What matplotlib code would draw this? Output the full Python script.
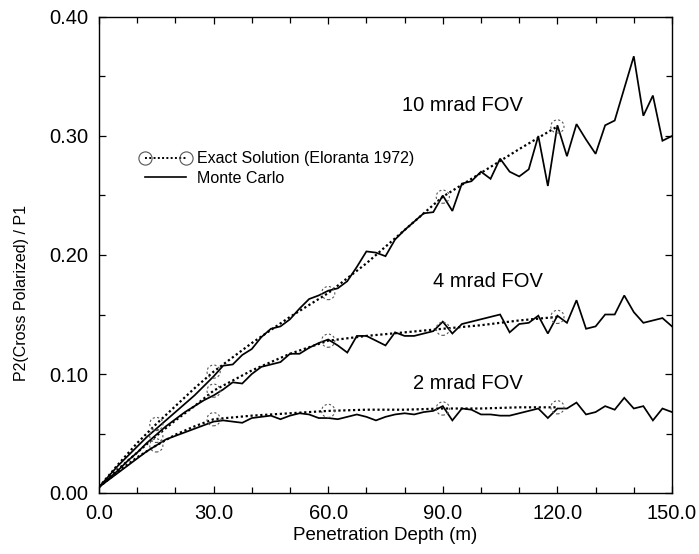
import numpy as np
import matplotlib
matplotlib.use("Agg")
import matplotlib.pyplot as plt
from matplotlib.lines import Line2D
from matplotlib.ticker import MultipleLocator, FormatStrFormatter

plt.rcParams['font.family'] = ['Liberation Sans', 'DejaVu Sans']

# ---------------- data ----------------
mc_depth = [0, 2.5, 5, 7.5, 10, 12.5, 15, 17.5, 20, 22.5, 25, 27.5, 30, 32.5, 35, 37.5,
            40, 42.5, 45, 47.5, 50, 52.5, 55, 57.5, 60, 62.5, 65, 67.5, 70, 72.5, 75, 77.5,
            80, 82.5, 85, 87.5, 90, 92.5, 95, 97.5, 100, 102.5, 105, 107.5, 110, 112.5,
            115, 117.5, 120, 122.5, 125, 127.5, 130, 132.5, 135, 137.5, 140, 142.5, 145,
            147.5, 150]

mc_10 = [0.005, 0.014, 0.023, 0.031, 0.039, 0.047, 0.054, 0.061, 0.068, 0.075, 0.082, 0.090,
         0.098, 0.107, 0.108, 0.116, 0.121, 0.131, 0.138, 0.140, 0.146, 0.155, 0.163, 0.166,
         0.170, 0.172, 0.178, 0.190, 0.203, 0.202, 0.199, 0.213, 0.221, 0.228, 0.235, 0.236,
         0.250, 0.237, 0.260, 0.262, 0.270, 0.264, 0.281, 0.270, 0.266, 0.272, 0.300, 0.258,
         0.309, 0.283, 0.310, 0.297, 0.285, 0.309, 0.313, 0.340, 0.367, 0.317, 0.334, 0.296,
         0.300]

mc_4 = [0.005, 0.012, 0.019, 0.027, 0.034, 0.042, 0.049, 0.056, 0.062, 0.068, 0.073, 0.078,
        0.082, 0.087, 0.093, 0.092, 0.100, 0.106, 0.108, 0.110, 0.117, 0.117, 0.122, 0.126,
        0.129, 0.124, 0.118, 0.132, 0.132, 0.128, 0.124, 0.135, 0.132, 0.132, 0.134, 0.136,
        0.144, 0.134, 0.142, 0.144, 0.146, 0.148, 0.150, 0.135, 0.142, 0.143, 0.149, 0.134,
        0.149, 0.143, 0.162, 0.138, 0.140, 0.150, 0.150, 0.166, 0.152, 0.143, 0.145, 0.147,
        0.140]

mc_2 = [0.005, 0.011, 0.017, 0.023, 0.029, 0.035, 0.040, 0.045, 0.048, 0.051, 0.054, 0.057,
        0.060, 0.061, 0.060, 0.059, 0.063, 0.064, 0.065, 0.062, 0.065, 0.067, 0.066, 0.063,
        0.063, 0.062, 0.064, 0.066, 0.064, 0.061, 0.064, 0.066, 0.067, 0.066, 0.068, 0.069,
        0.073, 0.061, 0.071, 0.070, 0.066, 0.066, 0.065, 0.065, 0.067, 0.069, 0.071, 0.063,
        0.071, 0.071, 0.076, 0.066, 0.068, 0.073, 0.070, 0.080, 0.071, 0.073, 0.061, 0.071,
        0.068]

ex_depth = [0, 5, 10, 15, 20, 25, 30, 40, 50, 60, 70, 80, 90, 100, 110, 120]
ex_10 = [0.005, 0.024, 0.042, 0.058, 0.073, 0.088, 0.102, 0.126, 0.148, 0.168, 0.193, 0.221,
         0.249, 0.269, 0.289, 0.308]
ex_4 = [0.005, 0.020, 0.034, 0.048, 0.061, 0.073, 0.086, 0.103, 0.117, 0.128, 0.132, 0.135,
        0.138, 0.141, 0.145, 0.148]
ex_2 = [0.005, 0.018, 0.030, 0.040, 0.049, 0.056, 0.062, 0.065, 0.067, 0.069, 0.070, 0.070,
        0.071, 0.071, 0.072, 0.072]
marker_depths = [15, 30, 60, 90, 120]

fov_labels = ["10 mrad FOV", "4 mrad FOV", "2 mrad FOV"]
fov_label_pos = [(95.1, 0.326), (101.9, 0.178), (96.5, 0.092)]

legend_labels = ["Exact Solution (Eloranta 1972)", "Monte Carlo"]

# ---------------- figure ----------------
fig = plt.figure(figsize=(6.99, 5.54), dpi=100)
ax = fig.add_axes([99 / 699, 1 - 493 / 554, (672 - 99) / 699, (493 - 17) / 554])

dot_style = dict(color='black', lw=1.6, ls=(0, (1, 1.2)))
mark_style = dict(s=90, facecolors='none', edgecolors='#555555', linewidths=0.8,
                  linestyles=(0, (2, 2)), zorder=4)

ex_depth_a = np.array(ex_depth)
sel = np.isin(ex_depth_a, marker_depths)
for ex in (ex_10, ex_4, ex_2):
    ex_a = np.array(ex)
    ax.plot(ex_depth_a, ex_a, **dot_style)
    ax.scatter(ex_depth_a[sel], ex_a[sel], **mark_style)

for mc in (mc_10, mc_4, mc_2):
    ax.plot(mc_depth, mc, color='black', lw=1.25, solid_joinstyle='miter')

for lab, (xx, yy) in zip(fov_labels, fov_label_pos):
    ax.text(xx, yy, lab, fontsize=14.5, ha='center', va='center')

ax.set_xlim(0, 150)
ax.set_ylim(0, 0.40)
ax.xaxis.set_major_locator(MultipleLocator(30))
ax.xaxis.set_minor_locator(MultipleLocator(10))
ax.yaxis.set_major_locator(MultipleLocator(0.10))
ax.yaxis.set_minor_locator(MultipleLocator(0.05))
ax.xaxis.set_major_formatter(FormatStrFormatter('%.1f'))
ax.yaxis.set_major_formatter(FormatStrFormatter('%.2f'))
ax.tick_params(which='both', direction='in', top=True, right=True, width=0.9)
ax.tick_params(which='major', length=5, labelsize=14.5, pad=8)
ax.tick_params(which='minor', length=4)
for sp in ax.spines.values():
    sp.set_linewidth(1.0)

ax.set_xlabel("Penetration Depth (m)", fontsize=13.5, labelpad=3)
ax.set_ylabel("P2(Cross Polarized) / P1", fontsize=11.5)
ax.yaxis.set_label_coords(-0.123, 0.42)

h_ex = Line2D([], [], color='black', lw=1.4, ls=(0, (1, 1.2)), marker='o', ms=9.5,
              mfc='none', mec='#555555', mew=0.8)
h_mc = Line2D([], [], color='black', lw=1.2)
ax.legend([h_ex, h_mc], legend_labels, loc='center left',
          bbox_to_anchor=((140 - 99) / 573, (493 - 168.5) / 476),
          frameon=False, fontsize=11.5, handlelength=3.2, handletextpad=0.35,
          labelspacing=0.3, borderpad=0, borderaxespad=0, numpoints=2)

fig.savefig("out.png", dpi=100)
